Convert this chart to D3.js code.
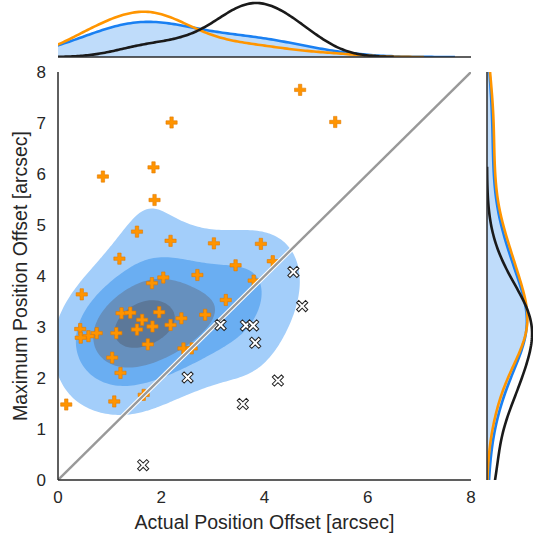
<!DOCTYPE html>
<html><head><meta charset="utf-8">
<script src="https://cdn.jsdelivr.net/npm/d3@7"></script>
<style>body{margin:0;background:#fff} svg{display:block} text{font-family:"Liberation Sans",Arial,sans-serif}</style>
</head><body><svg id="c" width="533" height="537"></svg>
<script>
// ---- data ----
const orangeX = [4.69,2.20,5.37,1.85,0.87,1.87,1.53,2.18,3.02,3.93,1.19,3.44,4.16,2.70,2.04,1.82,3.79,0.46,3.25,1.23,1.40,1.96,1.63,2.39,2.85,2.18,1.83,1.53,0.43,1.13,0.75,0.59,0.44,1.74,2.43,2.59,1.05,1.21,0.16,1.09,1.66];
const orangeY = [7.65,7.01,7.02,6.13,5.95,5.49,4.87,4.69,4.64,4.63,4.34,4.21,4.29,4.02,3.97,3.86,3.91,3.64,3.53,3.27,3.28,3.29,3.14,3.17,3.24,3.04,3.01,2.95,2.96,2.88,2.88,2.82,2.79,2.66,2.58,2.58,2.40,2.10,1.48,1.54,1.67];
const blackX = [3.15,3.64,3.78,3.82,4.56,4.73,2.51,4.26,3.58,1.65];
const blackY = [3.04,3.03,3.03,2.69,4.08,3.41,2.01,1.95,1.49,0.29];
const xTicks = [0,2,4,6,8];
const yTicks = [0,1,2,3,4,5,6,7,8];
const xLabel = "Actual Position Offset [arcsec]";
const yLabel = "Maximum Position Offset [arcsec]";
const levelProps = [0.35,0.6,0.79,0.935];
const bandColors = ["#a3cefa","#6aaef2","#6690be","#5c7899"];

// ---- layout ----
const svg = d3.select("#c");
const x = d3.scaleLinear([0,8],[58,471]);
const y = d3.scaleLinear([0,8],[480,72]);
const topBase = 57, rightBase = 487;

const defs = svg.append("defs");
defs.append("clipPath").attr("id","main").append("rect").attr("x",58).attr("y",72).attr("width",413).attr("height",408);
defs.append("clipPath").attr("id","topc").append("rect").attr("x",58).attr("y",0).attr("width",413).attr("height",topBase);
defs.append("clipPath").attr("id","rightc").append("rect").attr("x",rightBase).attr("y",72).attr("width",60).attr("height",408);

// ---- 2D KDE ----
const allX = orangeX.concat(blackX), allY = orangeY.concat(blackY);
const n = allX.length;
const mx = d3.mean(allX), my = d3.mean(allY);
let cxx=0,cyy=0,cxy=0;
for(let i=0;i<n;i++){cxx+=(allX[i]-mx)**2;cyy+=(allY[i]-my)**2;cxy+=(allX[i]-mx)*(allY[i]-my);}
cxx/=(n-1);cyy/=(n-1);cxy/=(n-1);
const f2 = Math.pow(n,-2/6);
const Kxx=cxx*f2,Kyy=cyy*f2,Kxy=cxy*f2;
const det=Kxx*Kyy-Kxy*Kxy;
const ixx=Kyy/det,iyy=Kxx/det,ixy=-Kxy/det;
const bx=Math.sqrt(Kxx),by=Math.sqrt(Kyy);
const G=200;
const x0=d3.min(allX)-3*bx,x1=d3.max(allX)+3*bx,y0=d3.min(allY)-3*by,y1=d3.max(allY)+3*by;
const dx=(x1-x0)/(G-1),dy=(y1-y0)/(G-1);
const vals=new Float64Array(G*G);
for(let j=0;j<G;j++){const yy=y0+j*dy;for(let i=0;i<G;i++){const xx=x0+i*dx;let s=0;
  for(let k=0;k<n;k++){const a=xx-allX[k],b=yy-allY[k];s+=Math.exp(-0.5*(a*a*ixx+2*a*b*ixy+b*b*iyy));}
  vals[j*G+i]=s;}}
const sorted=Array.from(vals).sort((a,b)=>b-a);
const tot=d3.sum(sorted);
const cum=[];let acc=0;for(const v of sorted){acc+=v;cum.push(acc/tot);}
const levels=levelProps.map(p=>{const idx=d3.bisectLeft(cum,1-p);return sorted[Math.min(idx,sorted.length-1)];});
const conts=d3.contours().size([G,G]).thresholds(levels)(Array.from(vals));
const proj=d3.geoTransform({point:function(cx,cy){this.stream.point(x(x0+(cx-0.5)*dx),y(y0+(cy-0.5)*dy));}});
const gpath=d3.geoPath(proj);
const gC=svg.append("g").attr("clip-path","url(#main)");
gC.selectAll("path").data(conts).join("path").attr("d",gpath).attr("fill",(d,i)=>bandColors[i]).attr("stroke","none");

// ---- 1D KDE ----
function kde1(v,adj){const m=v.length,bw=adj*d3.deviation(v)*Math.pow(m,-0.2);
  const lo=d3.min(v)-3*bw,hi=d3.max(v)+3*bw,out=[];
  for(let i=0;i<200;i++){const t=lo+(hi-lo)*i/199;let s=0;for(const q of v)s+=Math.exp(-0.5*((t-q)/bw)**2);
    out.push([t,s/(m*bw*Math.sqrt(2*Math.PI))]);}
  return out;}
const tAll=kde1(allX,1.3),tOr=kde1(orangeX,1),tBl=kde1(blackX,1);
const rAll=kde1(allY,1.1),rOr=kde1(orangeY,1),rBl=kde1(blackY,1);
const maxTop=d3.max([tAll,tOr,tBl].flat(),d=>d[1]);
const dk=d3.scaleLinear([0,maxTop],[0,topBase-3]);
const gT=svg.append("g").attr("clip-path","url(#topc)");
gT.append("path").datum(tAll).attr("d",d3.area().x(d=>x(d[0])).y0(topBase).y1(d=>topBase-dk(d[1]))).attr("fill","#bfdcfa");
const lineT=d3.line().x(d=>x(d[0])).y(d=>topBase-dk(d[1]));
[[tAll,"#1a80f2"],[tOr,"#ff9500"],[tBl,"#1a1a1a"]].forEach(([d,c])=>gT.append("path").datum(d).attr("d",lineT).attr("fill","none").attr("stroke",c).attr("stroke-width",2.6));
const gR=svg.append("g").attr("clip-path","url(#rightc)");
gR.append("path").datum(rAll).attr("d",d3.area().y(d=>y(d[0])).x0(rightBase).x1(d=>rightBase+dk(d[1]))).attr("fill","#bfdcfa");
const lineR=d3.line().y(d=>y(d[0])).x(d=>rightBase+dk(d[1]));
[[rAll,"#1a80f2"],[rOr,"#ff9500"],[rBl,"#1a1a1a"]].forEach(([d,c])=>gR.append("path").datum(d).attr("d",lineR).attr("fill","none").attr("stroke",c).attr("stroke-width",2.6));

// ---- markers & diagonal ----
const gM=svg.append("g").attr("clip-path","url(#main)");
function plusPath(a,w){return `M${-w},${-a}H${w}V${-w}H${a}V${w}H${w}V${a}H${-w}V${w}H${-a}V${-w}H${-w}Z`;}
gM.selectAll("path.o").data(orangeX.map((v,i)=>[v,orangeY[i]])).join("path").attr("class","o")
  .attr("d",plusPath(5.6,1.7)).attr("transform",d=>`translate(${x(d[0])},${y(d[1])})`)
  .attr("fill","#ff9400").attr("stroke","#e07a00").attr("stroke-width",0.6);
gM.append("line").attr("x1",x(0)).attr("y1",y(0)).attr("x2",x(8)).attr("y2",y(8)).attr("stroke","#fff").attr("stroke-width",4.5);
gM.append("line").attr("x1",x(0)).attr("y1",y(0)).attr("x2",x(8)).attr("y2",y(8)).attr("stroke","#999").attr("stroke-width",2.4);
gM.selectAll("path.b").data(blackX.map((v,i)=>[v,blackY[i]])).join("path").attr("class","b")
  .attr("d",plusPath(6.4,1.5)).attr("transform",d=>`translate(${x(d[0])},${y(d[1])}) rotate(45)`)
  .attr("fill","#fff").attr("stroke","#222").attr("stroke-width",1);

// ---- spines ----
const sp="#2a2a2a";
svg.append("line").attr("x1",58).attr("x2",58).attr("y1",72).attr("y2",480).attr("stroke",sp).attr("stroke-width",1.5);
svg.append("line").attr("x1",58).attr("x2",471).attr("y1",480).attr("y2",480).attr("stroke",sp).attr("stroke-width",1.5);
svg.append("line").attr("x1",58).attr("x2",471).attr("y1",topBase).attr("y2",topBase).attr("stroke",sp).attr("stroke-width",1.5);
svg.append("line").attr("x1",rightBase).attr("x2",rightBase).attr("y1",72).attr("y2",480).attr("stroke",sp).attr("stroke-width",1.5);

// ---- ticks ----
const tc="#262626";
svg.selectAll("text.xt").data(xTicks).join("text").attr("class","xt").attr("x",d=>x(d)).attr("y",503)
  .attr("text-anchor","middle").attr("font-size",17).attr("fill",tc).text(d=>d);
svg.selectAll("text.yt").data(yTicks).join("text").attr("class","yt").attr("x",46).attr("y",d=>y(d)+6)
  .attr("text-anchor","end").attr("font-size",17).attr("fill",tc).text(d=>d);
svg.append("text").attr("x",264.5).attr("y",529).attr("text-anchor","middle").attr("font-size",19.5).attr("fill",tc).text(xLabel);
svg.append("text").attr("transform","translate(27,276) rotate(-90)").attr("text-anchor","middle").attr("font-size",19.5).attr("fill",tc).text(yLabel);
</script></body></html>
